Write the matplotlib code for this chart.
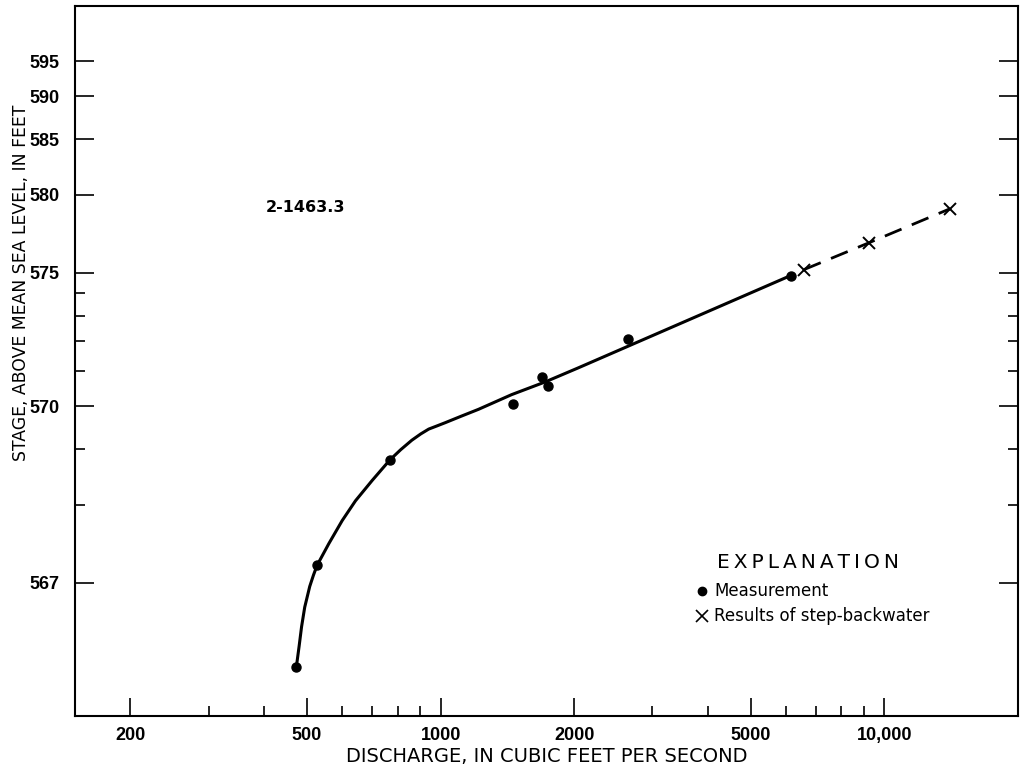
import numpy as np
import matplotlib
matplotlib.use("Agg")
from matplotlib import pyplot as plt
from matplotlib.ticker import NullFormatter, FixedFormatter

# current-meter measurements (discharge cfs, stage ft)
meas_q = [473, 527, 769, 1454, 1689, 1742, 2637, 6150]
meas_h = [566.29, 567.19, 568.79, 570.06, 570.82, 570.56, 572.09, 574.86]

# step-backwater computations
bw_q = [6590, 9230, 14030]
bw_h = [575.17, 576.69, 578.94]

# rating curve drawn through the measurements
curve_q = [473, 480, 486, 494, 507, 517, 527, 560, 600, 643, 701, 768,
           813, 861, 902, 940, 979, 1024, 1114, 1217, 1445, 1718, 2040, 6150]
curve_h = [566.29, 566.44, 566.59, 566.76, 566.96, 567.08, 567.19, 567.45,
           567.76, 568.06, 568.40, 568.78, 568.99, 569.19, 569.33, 569.44,
           569.51, 569.59, 569.75, 569.92, 570.31, 570.67, 571.10, 574.86]

x_major = [200, 500, 1000, 2000, 5000, 10000]
x_labels = ["200", "500", "1000", "2000", "5000", "10,000"]
x_minor = [300, 400, 600, 700, 800, 900, 3000, 4000, 6000, 7000, 8000, 9000]
y_major = [567, 570, 575, 580, 585, 590, 595]
y_minor = [568, 569, 571, 572, 573, 574]

e = 565.0  # gage height of zero flow used for the stage scale

fig = plt.figure(figsize=(10.21, 7.65), dpi=100)
ax = fig.add_axes([75 / 1021, 1 - 716 / 765, 943 / 1021, 710 / 765])

ax.set_xscale("log")
ax.set_yscale("function",
              functions=(lambda s: np.log10(np.maximum(s - e, 1e-6)),
                         lambda v: 10 ** v + e))
ax.set_xlim(150, 20000)
ax.set_ylim(566, 605)

ax.plot(curve_q, curve_h, color="black", lw=2.2, solid_capstyle="round",
        solid_joinstyle="round")
ax.plot(bw_q, bw_h, color="black", lw=2.0, ls=(0, (6.5, 4)))
ax.plot(meas_q, meas_h, "o", color="black", ms=6.5)
ax.plot(bw_q, bw_h, "x", color="black", ms=9, mew=1.4)

ax.set_xticks(x_major)
ax.set_xticks(x_minor, minor=True)
ax.xaxis.set_major_formatter(FixedFormatter(x_labels))
ax.xaxis.set_minor_formatter(NullFormatter())
ax.set_yticks(y_major)
ax.set_yticks(y_minor, minor=True)
ax.set_yticklabels([str(v) for v in y_major])
ax.yaxis.set_minor_formatter(NullFormatter())

ax.tick_params(which="both", direction="in", right=True, top=False, width=1.2)
ax.tick_params(axis="y", which="major", length=14, pad=11)
ax.tick_params(axis="y", which="minor", length=7)
ax.tick_params(axis="x", which="major", length=13, pad=8)
ax.tick_params(axis="x", which="minor", length=7)

for lab in ax.get_yticklabels() + ax.get_xticklabels():
    lab.set_fontfamily("Liberation Sans")
    lab.set_fontweight("bold")
    lab.set_fontsize(13)

for sp in ax.spines.values():
    sp.set_linewidth(1.5)

ax.set_ylabel("STAGE, ABOVE MEAN SEA LEVEL, IN FEET", fontsize=12.4,
              family="DejaVu Sans")
ax.yaxis.set_label_coords(-0.048, 0.61)
ax.set_xlabel("DISCHARGE, IN CUBIC FEET PER SECOND", fontsize=14,
              family="DejaVu Sans")
ax.xaxis.set_label_coords(0.5, -0.043)

ax.text(0.2025, 0.7155, "2-1463.3", transform=ax.transAxes, fontsize=11.5,
        fontweight="bold", family="DejaVu Sans", va="center")

# explanation box
ax.text(0.777, 0.2155, "\u2009".join("EXPLANATION"),
        transform=ax.transAxes, fontsize=14.5, ha="center", va="center",
        family="DejaVu Sans")
ax.plot([0.665], [0.176], "o", color="black", ms=6, transform=ax.transAxes)
ax.text(0.678, 0.176, "Measurement", transform=ax.transAxes, fontsize=12,
        va="center", family="DejaVu Sans")
ax.plot([0.665], [0.141], "x", color="black", ms=8, mew=1.2,
        transform=ax.transAxes)
ax.text(0.678, 0.141, "Results of step-backwater", transform=ax.transAxes,
        fontsize=12, va="center", family="DejaVu Sans")

fig.savefig("out.png", dpi=100)
